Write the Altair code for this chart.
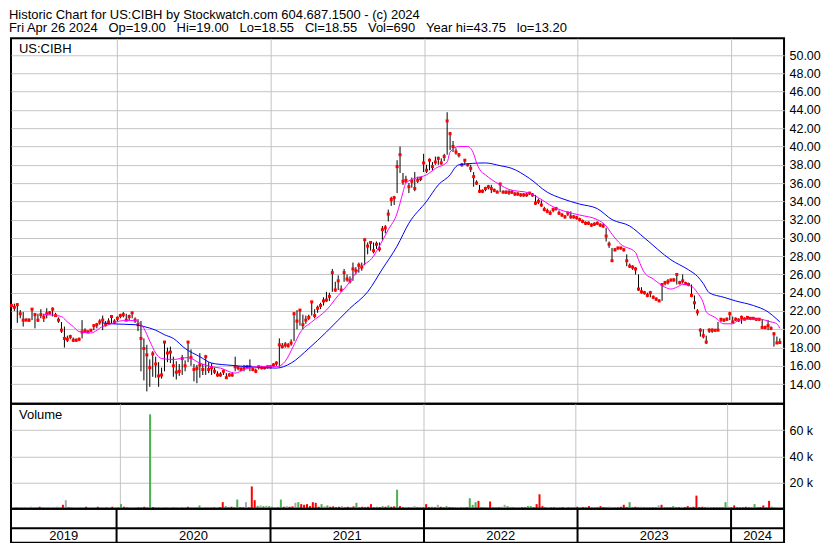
import altair as alt
import pandas as pd

FONT = "Liberation Sans"
GRID = "#c4c4c4"
RED = "#ff0000"
GREEN = "#4caf50"
GRAY = "#a8a8a8"

START = "2019-04-26"          # first weekly bar
X_START = (2019, 4, 25)       # left edge of the time axis
X_END = (2024, 5, 6)          # right edge of the time axis

header_1 = "Historic Chart for US:CIBH by Stockwatch.com 604.687.1500 - (c) 2024"
header_2 = "Fri Apr 26 2024  Op=19.00  Hi=19.00  Lo=18.55  Cl=18.55  Vol=690  Year hi=43.75  lo=13.20"
symbol = "US:CIBH"
vol_title = "Volume"

years = [2019, 2020, 2021, 2022, 2023, 2024]
price_ticks = [14, 16, 18, 20, 22, 24, 26, 28, 30, 32, 34, 36, 38, 40, 42, 44, 46, 48, 50]
vol_ticks = [20000, 40000, 60000]

# weekly closes
close = [
    22.6, 22.4, 22.7, 21.7, 21.0, 21.0, 21.0, 22.2, 21.6, 21.0,
    21.6, 21.3, 21.7, 21.8, 22.2, 21.5, 21.0, 19.9, 19.0, 18.9,
    19.2, 18.8, 18.8, 18.9, 19.7, 19.8, 19.7, 19.9, 20.4, 20.5,
    20.8, 21.0, 20.5, 20.8, 21.4, 20.8, 21.2, 21.5, 21.6, 21.0,
    21.4, 21.8, 21.0, 20.5, 19.0, 17.9, 17.2, 15.8, 17.3, 16.2,
    14.9, 15.0, 18.6, 17.4, 17.5, 16.0, 15.3, 15.4, 16.8, 16.0,
    18.6, 16.9, 15.6, 15.7, 16.1, 15.6, 17.0, 15.6, 15.8, 15.4,
    15.0, 15.0, 15.4, 14.7, 15.0, 15.0, 15.9, 15.8, 15.6, 15.8,
    15.9, 15.9, 15.6, 15.4, 15.9, 15.8, 15.8, 15.9, 15.9, 16.1,
    16.3, 18.3, 18.1, 18.3, 18.2, 18.5, 21.7, 20.9, 22.1, 20.5,
    21.0, 21.3, 23.0, 21.5, 22.3, 22.6, 23.1, 23.2, 23.6, 26.2,
    24.3, 25.3, 24.3, 26.2, 25.5, 25.3, 26.6, 26.4, 27.0, 26.8,
    29.8, 29.1, 29.5, 28.6, 29.3, 28.8, 30.9, 31.1, 32.6, 34.2,
    34.4, 37.8, 39.1, 36.2, 36.3, 35.6, 36.2, 35.4, 36.3, 36.5,
    38.2, 37.4, 38.5, 37.8, 38.3, 38.7, 38.2, 38.9, 42.8, 41.4,
    40.0, 39.4, 39.1, 38.0, 38.5, 38.0, 37.6, 36.7, 36.0, 35.1,
    35.1, 35.4, 35.6, 35.4, 35.2, 35.0, 35.9, 35.0, 35.0, 35.0,
    35.0, 34.8, 34.8, 34.7, 34.7, 34.7, 34.9, 34.7, 33.8, 34.0,
    33.6, 33.1, 32.9, 32.7, 33.1, 33.2, 32.7, 32.5, 32.3, 32.7,
    32.3, 32.3, 32.2, 32.0, 31.8, 31.6, 31.6, 31.4, 31.5, 31.6,
    31.4, 31.3, 30.2, 29.3, 27.5, 28.7, 28.9, 28.9, 28.7, 27.5,
    26.9, 26.8, 26.6, 24.4, 24.1, 24.0, 23.7, 24.0, 23.5, 23.3,
    23.1, 24.9, 25.1, 25.2, 25.4, 25.4, 26.0, 25.1, 25.3, 25.0,
    24.9, 23.7, 22.9, 21.9, 19.9, 19.3, 18.6, 19.9, 19.9, 19.9,
    19.9, 21.1, 21.0, 21.1, 21.7, 20.8, 21.1, 21.0, 21.3, 21.1,
    21.3, 21.2, 21.2, 21.1, 21.1, 20.2, 20.2, 20.4, 20.1, 19.5,
    18.5, 18.55,
]

high = [
    22.9, 22.8, 22.8, 22.1, 21.9, 21.2, 21.2, 22.3, 21.8, 21.7,
    22.2, 21.7, 22.3, 22.0, 22.4, 21.8, 21.3, 20.8, 20.3, 19.3,
    19.4, 19.1, 19.0, 19.1, 21.0, 20.1, 19.9, 20.0, 20.5, 20.7,
    21.1, 21.5, 20.9, 21.2, 21.5, 21.1, 21.4, 21.7, 21.9, 21.7,
    21.6, 21.9, 21.3, 21.1, 20.9, 19.0, 18.3, 16.7, 17.6, 17.0,
    16.4, 15.8, 18.7, 18.0, 18.1, 17.0, 16.5, 16.2, 17.2, 16.6,
    18.7, 17.8, 16.2, 16.1, 17.4, 16.2, 17.2, 16.4, 16.3, 15.8,
    15.4, 15.3, 15.6, 15.2, 15.2, 15.3, 17.0, 16.0, 15.9, 16.1,
    16.1, 16.7, 15.9, 15.7, 16.0, 16.0, 15.9, 16.0, 16.0, 16.3,
    16.5, 19.0, 18.5, 18.6, 18.5, 18.9, 21.9, 22.1, 22.2, 21.6,
    21.5, 21.6, 23.1, 22.2, 22.6, 22.9, 23.5, 24.1, 24.0, 26.6,
    25.2, 25.9, 24.8, 26.6, 26.0, 25.8, 27.3, 26.8, 27.3, 27.3,
    29.9, 29.5, 29.6, 29.5, 29.6, 29.5, 31.3, 31.4, 33.1, 34.5,
    34.6, 38.5, 40.0, 37.1, 36.8, 36.0, 36.6, 37.2, 36.7, 36.7,
    39.2, 38.0, 38.7, 38.3, 38.9, 38.9, 38.7, 39.2, 43.75, 41.6,
    40.6, 39.8, 39.3, 38.2, 38.6, 38.1, 38.0, 37.2, 36.3, 35.8,
    35.3, 35.6, 35.8, 35.8, 35.4, 35.2, 36.0, 35.2, 35.2, 35.2,
    35.2, 35.0, 35.0, 34.9, 34.9, 34.9, 35.0, 34.9, 34.7, 34.3,
    34.1, 33.4, 33.2, 33.0, 33.3, 33.4, 33.0, 32.7, 32.5, 32.9,
    32.9, 32.5, 32.4, 32.2, 32.0, 31.8, 31.8, 31.6, 31.7, 31.8,
    31.6, 31.6, 31.1, 29.6, 28.9, 28.9, 29.0, 29.0, 28.9, 28.2,
    27.2, 27.0, 26.8, 26.0, 24.6, 24.2, 24.0, 24.2, 23.7, 23.5,
    23.3, 24.9, 25.3, 25.5, 25.5, 25.6, 26.1, 25.3, 26.0, 25.2,
    25.1, 24.9, 23.7, 22.2, 20.1, 20.0, 19.3, 20.1, 20.1, 20.0,
    20.8, 21.2, 21.2, 21.3, 21.9, 21.4, 21.3, 21.2, 21.5, 21.3,
    21.4, 21.3, 21.3, 21.2, 21.2, 21.1, 20.4, 21.0, 20.3, 19.7,
    19.2, 19.0,
]

low = [
    22.3, 22.0, 20.7, 21.2, 20.3, 20.9, 20.8, 21.0, 20.1, 20.8,
    21.2, 20.8, 21.2, 21.6, 21.4, 21.4, 20.7, 19.6, 18.0, 18.6,
    18.9, 18.6, 18.6, 18.7, 19.0, 19.6, 19.6, 19.7, 19.9, 20.1,
    20.5, 19.9, 20.3, 20.5, 20.6, 20.6, 20.9, 21.2, 21.3, 20.9,
    21.0, 21.2, 20.7, 19.8, 15.4, 14.4, 13.2, 13.7, 14.8, 14.7,
    13.7, 14.6, 15.4, 16.4, 16.3, 14.8, 14.5, 14.9, 15.0, 15.4,
    16.4, 16.0, 14.3, 14.1, 14.7, 15.0, 15.0, 15.2, 15.0, 15.1,
    14.8, 14.8, 15.0, 14.6, 14.8, 14.8, 15.4, 15.5, 15.4, 15.4,
    15.7, 15.4, 15.4, 15.2, 15.6, 15.6, 15.6, 15.7, 15.7, 15.9,
    16.0, 15.9, 17.9, 18.0, 18.0, 18.2, 18.7, 20.0, 20.4, 20.0,
    20.6, 21.0, 21.5, 21.2, 21.8, 22.2, 22.6, 23.0, 23.1, 24.1,
    24.1, 24.3, 24.1, 25.2, 25.2, 25.0, 25.3, 26.0, 26.2, 26.4,
    27.0, 28.2, 28.6, 28.3, 28.8, 28.5, 29.8, 30.5, 31.8, 33.5,
    33.6, 34.9, 37.1, 35.8, 36.0, 34.9, 35.5, 35.1, 36.0, 36.2,
    37.2, 37.1, 37.4, 37.4, 38.0, 38.0, 38.0, 38.4, 39.1, 39.6,
    39.4, 39.1, 38.8, 37.8, 38.0, 37.8, 37.2, 35.6, 35.8, 34.9,
    34.9, 35.1, 35.3, 34.9, 35.0, 34.9, 35.0, 34.9, 34.8, 34.7,
    34.8, 34.6, 34.6, 34.5, 34.5, 34.5, 34.7, 34.5, 33.6, 33.7,
    33.4, 32.9, 32.7, 32.5, 32.8, 33.0, 32.5, 32.3, 32.1, 32.4,
    32.1, 32.1, 32.0, 31.8, 31.6, 31.4, 31.4, 31.2, 31.3, 31.4,
    31.2, 31.1, 29.6, 28.9, 27.5, 28.5, 28.7, 28.7, 28.5, 26.9,
    26.7, 26.5, 26.0, 24.2, 23.9, 23.8, 23.5, 23.5, 23.3, 23.1,
    23.0, 23.1, 24.8, 24.9, 25.2, 25.2, 24.9, 24.9, 25.0, 24.9,
    24.7, 23.5, 22.2, 21.5, 19.2, 19.0, 18.4, 19.6, 19.6, 19.7,
    19.8, 20.8, 20.8, 20.9, 21.0, 20.7, 20.9, 20.8, 20.6, 21.0,
    21.1, 21.0, 21.0, 20.9, 20.9, 20.1, 20.0, 19.9, 19.9, 18.1,
    18.4, 18.55,
]

# weekly volume, thousands of shares
volume_k = [
    0.8, 0.6, 1.0, 0.7, 0.5, 1.5, 0.6, 0.9, 1.5, 0.7,
    0.6, 0.8, 0.5, 0.7, 1.5, 0.6, 3.0, 6.5, 1.0, 0.7,
    0.5, 0.6, 0.8, 0.6, 1.5, 0.5, 0.7, 0.6, 1.5, 0.8,
    0.6, 0.9, 0.7, 1.5, 0.6, 0.8, 3.5, 1.5, 0.9, 0.7,
    0.6, 0.8, 1.0, 0.9, 1.5, 0.8, 72.0, 1.2, 0.9, 0.7,
    0.6, 0.8, 0.7, 0.6, 0.9, 0.7, 0.6, 0.8, 0.7, 1.5,
    0.9, 0.7, 0.8, 2.5, 0.6, 0.8, 0.9, 0.7, 1.0, 0.8,
    1.2, 5.0, 2.0, 1.0, 1.5, 0.9, 7.0, 1.2, 1.0, 5.0,
    1.0, 17.0, 6.5, 2.2, 2.5, 2.0, 2.3, 2.0, 1.5, 1.2,
    1.0, 7.0, 1.5, 2.0, 1.5, 1.8, 4.5, 5.0, 3.5, 3.0,
    3.5, 2.0, 5.0, 4.5, 1.5, 3.5, 1.8, 2.5, 1.5, 1.8,
    1.2, 1.5, 2.0, 1.0, 1.5, 1.2, 1.8, 4.5, 1.0, 1.5,
    1.2, 1.5, 3.5, 1.0, 1.5, 1.2, 2.0, 1.5, 2.5, 1.5,
    1.8, 14.5, 2.0, 1.0, 1.2, 1.0, 0.8, 2.0, 1.0, 0.8,
    1.0, 3.5, 1.2, 1.5, 1.0, 3.0, 1.5, 1.0, 2.0, 1.2,
    1.0, 0.8, 1.0, 0.9, 0.8, 1.0, 8.0, 3.0, 5.0, 6.0,
    1.0, 0.8, 1.2, 5.5, 1.0, 0.8, 1.0, 1.5, 3.0, 2.0,
    0.8, 1.0, 0.7, 0.9, 1.2, 1.0, 2.0, 2.0, 1.0, 3.5,
    11.0, 2.0, 1.0, 0.8, 0.9, 1.0, 0.7, 0.8, 1.2, 0.9,
    1.0, 0.8, 0.9, 1.5, 1.0, 1.2, 0.9, 2.0, 1.0, 0.8,
    1.0, 2.0, 1.2, 1.0, 1.5, 0.8, 1.2, 1.0, 1.5, 3.0,
    1.2, 5.0, 1.0, 1.5, 1.0, 1.5, 1.0, 0.8, 1.2, 1.0,
    0.9, 2.5, 3.0, 1.0, 1.2, 1.0, 2.0, 1.0, 1.2, 1.0,
    1.2, 2.0, 1.0, 1.5, 10.0, 1.2, 1.5, 1.0, 1.5, 0.8,
    1.0, 0.9, 1.2, 1.0, 5.0, 1.5, 1.0, 2.5, 1.0, 0.9,
    1.0, 1.5, 1.0, 0.8, 3.5, 1.0, 1.2, 2.5, 1.0, 6.0,
    1.5, 0.69,
]

# volume bar colour: r = down, g = up, n = unchanged
vol_dir = (
    "rrnrrnrgrr" "rgrrnrrnrr" "rrgrrrnrrg" "rrnrgrgrrr" "rgrrrrgrgr"
    "grrgrrnrgr" "grrgrrgrrn" "rrgrrrgrrn" "rrrgngnggn" "rgrnrrngrr"
    "rrrrrgngrr" "rrnrrgrgrr" "rrrrgrgrgr" "rgrrnrrnrr" "rrrgrnrrgr"
    "rrnrrrgggr" "rrnrrrrnng" "rrrgrrggrr" "rrrnrrgrrn" "rrrrnrrrgr"
    "rrrrnrgrrr" "rgrrrnrrgr" "rnrrgrgrrn" "rrrrrrrrnr" "rrgrgnrrrr"
    "rrrrgrrrgr" "gr"
)

# short moving average (magenta), sampled at week numbers
fast_wk = [11, 14, 17, 19, 21, 23, 27, 31, 33, 38, 42, 45, 47, 49, 51, 55, 60, 64, 68, 71,
           76, 79, 84, 90, 93, 96, 98, 102, 107, 111, 114, 118, 123, 125, 128, 131, 132, 133, 134, 137,
           141, 144, 148, 149, 152, 155, 157, 158, 159, 161, 163, 166, 169, 176, 179, 184, 188, 193, 199, 202,
           204, 207, 212, 213, 215, 218, 222, 224, 226, 228, 231, 233, 235, 236, 239, 242, 245, 247, 251, 254,
           258, 260, 261]
fast_val = [21.6, 21.55, 21.4, 20.8, 20.3, 19.75, 19.6, 20.3, 20.5, 20.95, 20.95, 20.1, 18.7, 17.4, 16.8, 16.7, 16.9, 16.3, 15.9, 15.75,
            15.2, 15.6, 15.9, 15.9, 16.5, 18.3, 19.6, 20.8, 22.1, 23.7, 24.8, 26.6, 28.0, 29.1, 30.9, 32.7, 33.8, 35.0, 36.0, 36.5,
            36.9, 37.6, 38.3, 39.4, 40.0, 40.0, 39.2, 38.2, 37.5, 36.9, 36.4, 35.8, 35.3, 34.9, 34.4, 33.4, 32.9, 32.5, 32.0, 31.3,
            30.4, 29.3, 28.4, 27.6, 26.2, 25.5, 24.6, 24.4, 24.6, 24.9, 24.7, 24.0, 22.9, 21.9, 21.3, 20.6, 20.6, 21.0, 21.1, 21.1,
            20.8, 20.6, 20.1]

# long moving average (blue)
slow_wk = [31, 34, 42, 45, 49, 52, 55, 59, 64, 68, 73, 81, 90, 95, 101, 107, 115, 121, 126, 131,
           135, 141, 145, 149, 151, 152, 161, 166, 170, 176, 182, 187, 193, 199, 204, 210, 215, 224, 230, 233,
           235, 237, 242, 246, 252, 257, 260, 261]
slow_val = [20.7, 20.6, 20.5, 20.3, 19.9, 19.4, 19.0, 17.9, 17.0, 16.3, 16.1, 15.9, 15.75, 16.3, 17.9, 19.7, 22.3, 24.1, 26.6, 29.1,
            31.6, 34.0, 35.8, 36.9, 37.8, 38.0, 38.2, 37.9, 37.6, 36.5, 35.0, 34.3, 33.7, 33.2, 32.0, 31.3, 30.0, 27.6, 26.5, 25.8,
            25.0, 24.0, 23.5, 23.1, 22.6, 21.9, 21.1, 20.8]

# ---------------------------------------------------------------- tables
start = pd.Timestamp(START)
wk = lambda i: start + pd.Timedelta(days=7 * i)

price_df = pd.DataFrame({
    "date": [wk(i) for i in range(len(close))],
    "close": close, "high": high, "low": low,
    "vol": [v * 1000 for v in volume_k],
    "dir": list(vol_dir),
})
fast_df = pd.DataFrame({"date": [wk(i) for i in fast_wk], "ma": fast_val})
slow_df = pd.DataFrame({"date": [wk(i) for i in slow_wk], "ma": slow_val})

x0 = pd.Timestamp(*X_START)
x1 = pd.Timestamp(*X_END)
year_rows = []
for y in years:
    s = max(pd.Timestamp(y, 1, 1), x0)
    e = min(pd.Timestamp(y + 1, 1, 1), x1)
    year_rows.append({"label": str(y), "mid": s + (e - s) / 2})
year_df = pd.DataFrame(year_rows)
sep_df = pd.DataFrame({"date": [pd.Timestamp(y, 1, 1) for y in years[1:]]})
one = pd.DataFrame({"k": [0]})

dt = lambda t: alt.DateTime(year=t[0], month=t[1], date=t[2])
xs = alt.Scale(domain=[dt(X_START), dt(X_END)])
year_starts = [alt.DateTime(year=y, month=1, date=1) for y in years[1:]]
grid_x = alt.Axis(values=year_starts, grid=True, labels=False, ticks=False, domain=False,
                  title=None, gridColor=GRID, gridWidth=1)

W = 774
LABEL_SIZE = 12.5

# ---------------------------------------------------------------- price panel
py = alt.Scale(domain=[11.84, 51.84], nice=False, zero=False)
py_axis = alt.Axis(orient="right", values=price_ticks, format=".2f", grid=True, gridColor=GRID,
                   ticks=False, tickSize=0, domain=False, labelPadding=5, title=None,
                   labelOverlap=False, labelFont=FONT, labelFontSize=LABEL_SIZE, labelColor="black")
X_ENC = alt.X("date:T", scale=xs, axis=grid_x)
pbase = alt.Chart(price_df)
bars = pbase.mark_rule(color="black", strokeWidth=1).encode(
    x=X_ENC,
    y=alt.Y("low:Q", scale=py, axis=py_axis),
    y2="high:Q",
)
closes = pbase.mark_square(color=RED, size=9, opacity=1).encode(
    x=X_ENC, y=alt.Y("close:Q", scale=py, axis=py_axis))
slow_line = alt.Chart(slow_df).mark_line(color="#0000ff", strokeWidth=1, interpolate="monotone").encode(
    x=X_ENC, y=alt.Y("ma:Q", scale=py, axis=py_axis))
fast_line = alt.Chart(fast_df).mark_line(color="#ff00ff", strokeWidth=1, interpolate="monotone").encode(
    x=X_ENC, y=alt.Y("ma:Q", scale=py, axis=py_axis))
sym = alt.Chart(one).mark_text(align="left", baseline="middle", font=FONT, fontSize=13, color="black").encode(
    x=alt.value(8), y=alt.value(11), text=alt.value(symbol))
price = alt.layer(bars, closes, slow_line, fast_line, sym).properties(width=W, height=366)

# ---------------------------------------------------------------- volume panel
vy_axis = alt.Axis(orient="right", values=vol_ticks, labelExpr="format(datum.value / 1000, 'd') + ' k'",
                   grid=True, gridColor=GRID, ticks=False, tickSize=0, domain=False, labelPadding=5, title=None,
                   labelOverlap=False, labelFont=FONT, labelFontSize=LABEL_SIZE, labelColor="black")
vbars = alt.Chart(price_df).mark_bar(size=2).encode(
    x=X_ENC,
    y=alt.Y("vol:Q", scale=alt.Scale(domain=[0, 80000], nice=False), axis=vy_axis),
    color=alt.Color("dir:N", scale=alt.Scale(domain=["r", "g", "n"], range=[RED, GREEN, GRAY]), legend=None),
)
vtxt = alt.Chart(one).mark_text(align="left", baseline="middle", font=FONT, fontSize=13, color="black").encode(
    x=alt.value(8), y=alt.value(11), text=alt.value(vol_title))
volume = alt.layer(vbars, vtxt).properties(width=W, height=105)

# ---------------------------------------------------------------- year band
by = alt.Scale(domain=[0, 2], nice=False, zero=False)
ylab = alt.Chart(year_df).mark_text(font=FONT, fontSize=13, color="black", baseline="middle").encode(
    x=alt.X("mid:T", scale=xs, axis=None),
    y=alt.Y(datum=0.42, scale=by, axis=None),
    text="label:N",
)
seps = alt.Chart(sep_df).mark_rule(color="black", strokeWidth=2).encode(
    x=alt.X("date:T", scale=xs, axis=None),
    y=alt.Y(datum=0, scale=by, axis=None),
    y2=alt.Y2(datum=2),
)
midline = alt.Chart(one).mark_rule(color="black", strokeWidth=2).encode(
    y=alt.Y(datum=0.85, scale=by, axis=None))
band = alt.layer(seps, midline, ylab).properties(width=W, height=34)

chart = alt.vconcat(price, volume, band, spacing=0, bounds="flush").properties(
    padding=0,
    background="white",
    title=alt.TitleParams(
        text=[header_1, header_2.replace("  ", " \u00a0\u00a0")],
        anchor="start", font=FONT, fontSize=13, fontWeight="normal", color="black",
        lineHeight=13.5, offset=2,
    ),
).configure_view(stroke="black", strokeWidth=2)

chart.save("out.html", embed_options={"renderer": "svg", "actions": False})
